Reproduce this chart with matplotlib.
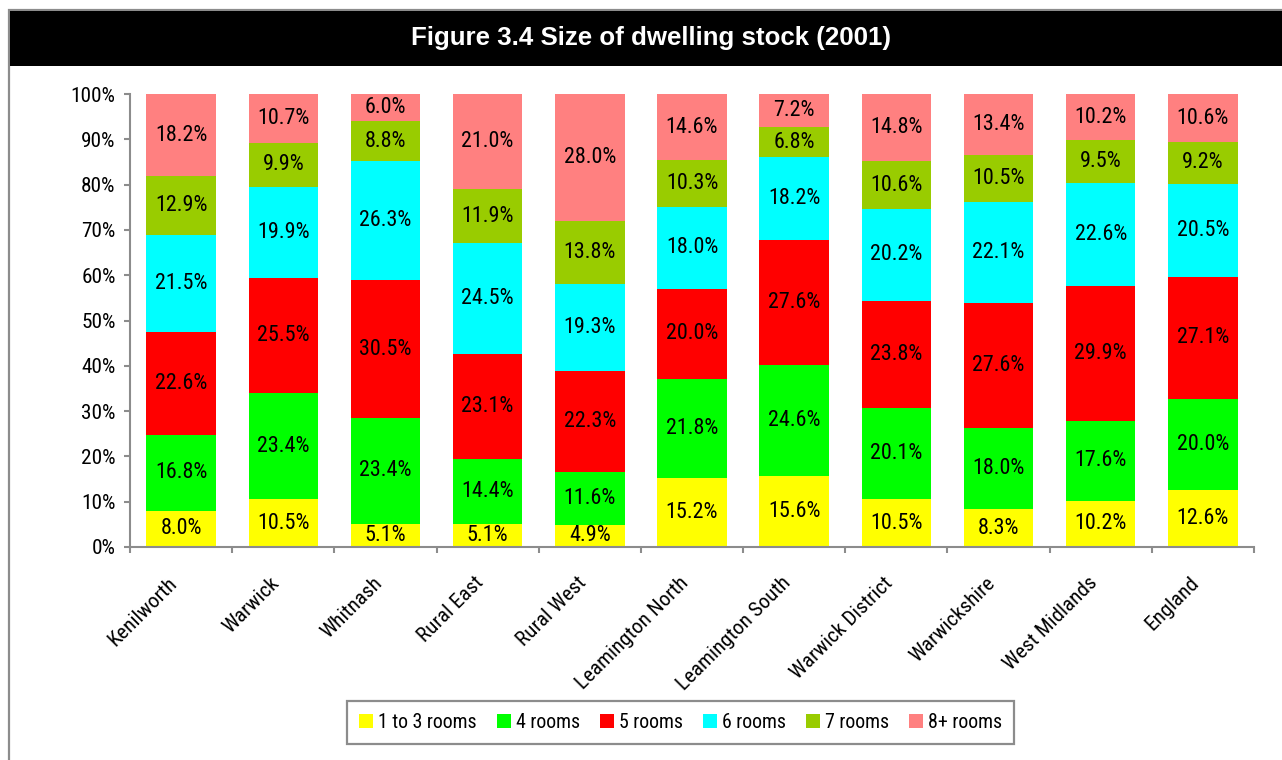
import matplotlib
matplotlib.use("Agg")
import matplotlib.pyplot as plt
import numpy as np
from matplotlib.patches import Rectangle
from matplotlib import font_manager

names = {f.name for f in font_manager.fontManager.ttflist}
NARROW = next((n for n in ["Liberation Sans Narrow", "Arial Narrow", "Roboto Condensed",
                           "PT Sans Narrow", "Archivo Narrow", "Liberation Sans"] if n in names),
              "DejaVu Sans")
FAM = [NARROW, "DejaVu Sans"]
BOLD = ["Liberation Sans", "DejaVu Sans"]

categories = ["Kenilworth", "Warwick", "Whitnash", "Rural East", "Rural West",
              "Leamington North", "Leamington South", "Warwick District",
              "Warwickshire", "West Midlands", "England"]
series_names = ["1 to 3 rooms", "4 rooms", "5 rooms", "6 rooms", "7 rooms", "8+ rooms"]
rooms_1_3 = [8.0, 10.5, 5.1, 5.1, 4.9, 15.2, 15.6, 10.5, 8.3, 10.2, 12.6]
rooms_4   = [16.8, 23.4, 23.4, 14.4, 11.6, 21.8, 24.6, 20.1, 18.0, 17.6, 20.0]
rooms_5   = [22.6, 25.5, 30.5, 23.1, 22.3, 20.0, 27.6, 23.8, 27.6, 29.9, 27.1]
rooms_6   = [21.5, 19.9, 26.3, 24.5, 19.3, 18.0, 18.2, 20.2, 22.1, 22.6, 20.5]
rooms_7   = [12.9, 9.9, 8.8, 11.9, 13.8, 10.3, 6.8, 10.6, 10.5, 9.5, 9.2]
rooms_8p  = [18.2, 10.7, 6.0, 21.0, 28.0, 14.6, 7.2, 14.8, 13.4, 10.2, 10.6]
colors = ["#FFFF00", "#00FF00", "#FF0000", "#00FFFF", "#99CC00", "#FF8080"]
yticks = [0, 10, 20, 30, 40, 50, 60, 70, 80, 90, 100]
title = "Figure 3.4 Size of dwelling stock (2001)"

data = np.array([rooms_1_3, rooms_4, rooms_5, rooms_6, rooms_7, rooms_8p])
norm = data / data.sum(axis=0) * 100

W, H = 1282, 760
fig = plt.figure(figsize=(W / 100, H / 100), dpi=100)
renderer = fig.canvas.get_renderer()


def fit(sample, target_px, family, weight="normal", base=15.0):
    t = fig.text(0, 0, sample, fontsize=base, family=family, fontweight=weight)
    w = t.get_window_extent(renderer).width
    t.remove()
    return base * target_px / w


s_lab = min(fit("18.2%", 53, FAM), 16)
s_tick = min(fit("100%", 45, FAM), 16)
s_leg = min(fit("1 to 3 rooms", 99, FAM), 16)
s_x = min(fit("Leamington North", 150, FAM), 17)
s_title = min(fit(title, 483, BOLD, "bold"), 19)

# outer frame and title bar
fig.patches.append(Rectangle((9 / W, -0.1), 1.2, 1 - 10 / H + 0.1, transform=fig.transFigure,
                             fill=False, edgecolor="#8c8c8c", linewidth=1.6, zorder=0))
fig.patches.append(Rectangle((10 / W, 1 - 66 / H), 1.0, 55 / H, transform=fig.transFigure,
                             facecolor="black", edgecolor="none", zorder=1))
fig.text(651 / W, 1 - 38.5 / H, title, color="white", fontsize=s_title, fontweight="bold",
         family=BOLD, ha="center", va="center")

ax = fig.add_axes([130 / W, 1 - 547 / H, 1124 / W, 453 / H])
x = np.arange(len(categories))
bottom = np.zeros(len(categories))
for vals, nv, c, name in zip(data, norm, colors, series_names):
    ax.bar(x, nv, bottom=bottom, width=0.68, color=c, label=name, edgecolor="none", zorder=2)
    for xi, b, h, v in zip(x, bottom, nv, vals):
        ax.text(xi, b + h / 2, f"{v:.1f}%", ha="center", va="center", fontsize=s_lab,
                family=FAM, color="black", zorder=3)
    bottom += nv

ax.set_xlim(-0.5, len(categories) - 0.5)
ax.set_ylim(0, 100)
ax.set_yticks(yticks)
ax.set_yticklabels([f"{t}%" for t in yticks], family=FAM, fontsize=s_tick)
ax.set_xticks(np.arange(len(categories) + 1) - 0.5)
ax.set_xticklabels([])
# category labels anchored slightly left of each bar centre (invisible minor ticks)
ax.set_xticks(x - 0.13, minor=True)
ax.set_xticklabels(categories, minor=True, rotation=45, ha="right", rotation_mode="anchor",
                   family=FAM, fontsize=s_x)
ax.tick_params(axis="x", which="minor", length=0, pad=19)
ax.tick_params(axis="x", which="major", length=4.3, width=1.5, color="#8c8c8c", direction="out")
ax.tick_params(axis="y", length=4.3, width=1.5, color="#8c8c8c", direction="out", pad=6)
for s in ["top", "right"]:
    ax.spines[s].set_visible(False)
for s in ["left", "bottom"]:
    ax.spines[s].set_color("#8c8c8c")
    ax.spines[s].set_linewidth(1.5)

em = s_leg * 100 / 72
leg = fig.legend(loc="center", bbox_to_anchor=(680.5 / W, 1 - 722.5 / H), ncol=6,
                 prop={"family": FAM, "size": s_leg},
                 handlelength=14 / em, handleheight=13 / em, handletextpad=5 / em,
                 columnspacing=20 / em, fancybox=False, edgecolor="#8c8c8c",
                 borderpad=0.6, framealpha=1)
leg.get_frame().set_linewidth(1.6)

fig.savefig("out.png", dpi=100)
